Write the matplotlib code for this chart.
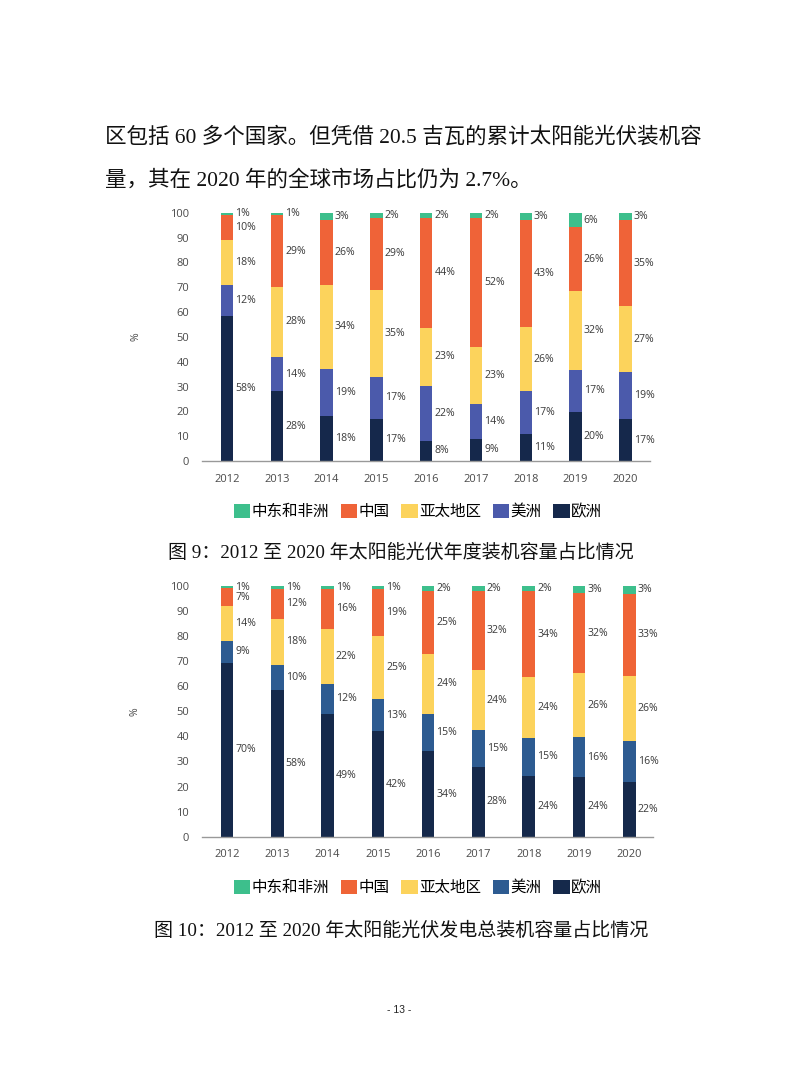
import numpy as np
from matplotlib import pyplot as plt
from matplotlib.patches import Patch

plt.rcParams['font.family'] = ['Open Sans', 'DejaVu Sans']

years = ['2012', '2013', '2014', '2015', '2016', '2017', '2018', '2019', '2020']
regions = ['欧洲', '美洲', '亚太地区', '中国', '中东和非洲']

# figure 9: annual installations, share (%) per region, bottom to top
annual_europe = [58, 28, 18, 17, 8, 9, 11, 20, 17]
annual_americas = [12, 14, 19, 17, 22, 14, 17, 17, 19]
annual_apac = [18, 28, 34, 35, 23, 23, 26, 32, 27]
annual_china = [10, 29, 26, 29, 44, 52, 43, 26, 35]
annual_mea = [1, 1, 3, 2, 2, 2, 3, 6, 3]

# figure 10: cumulative installed capacity, share (%) per region
total_europe = [70, 58, 49, 42, 34, 28, 24, 24, 22]
total_americas = [9, 10, 12, 13, 15, 15, 15, 16, 16]
total_apac = [14, 18, 22, 25, 24, 24, 24, 26, 26]
total_china = [7, 12, 16, 19, 25, 32, 34, 32, 33]
total_mea = [1, 1, 1, 1, 2, 2, 2, 3, 3]

colors_annual = ['#15284b', '#4b5aab', '#fcd35c', '#ef6338', '#3dbf8c']
colors_total = ['#15294b', '#2d5b91', '#fcd35c', '#ef6436', '#3dbf8c']

W, H = 800, 1085
fig = plt.figure(figsize=(W / 100, H / 100), dpi=100)
fig.patch.set_facecolor('white')

cjk = ['Liberation Serif', 'Noto Sans CJK SC']


def px(x, y):
    return x / W, 1 - y / H


def stacked(rect, series, colors, label_x):
    ax = fig.add_axes(rect)
    data = np.array(series, dtype=float)
    heights = data / data.sum(axis=0) * 100
    x = np.arange(len(years))
    bottom = np.zeros(len(years))
    for k in range(len(series)):
        ax.bar(x, heights[k], 0.25, bottom=bottom, color=colors[k], linewidth=0)
        for i in range(len(years)):
            ax.text(x[i] + 0.165, bottom[i] + heights[k][i] / 2, f'{int(data[k][i])}%',
                    ha='left', va='center', fontsize=7.6, color='#3a3a3a')
        bottom += heights[k]
    ax.set_ylim(0, 100)
    ax.set_xlim(*label_x)
    ax.set_xticks(x)
    ax.set_xticklabels(years)
    ax.set_yticks(range(0, 101, 10))
    ax.tick_params(length=0, labelsize=8, colors='#4a4a4a')
    ax.tick_params(axis='y', pad=9)
    ax.tick_params(axis='x', pad=9)
    for s in ['top', 'right', 'left']:
        ax.spines[s].set_visible(False)
    ax.spines['bottom'].set_color('#999999')
    ax.spines['bottom'].set_linewidth(1)
    ax.set_ylabel('%', fontsize=7.5, color='#4a4a4a')
    ax.yaxis.set_label_coords(-0.135, 0.5)
    return ax


def legend(cx, cy, colors):
    order = [4, 3, 2, 1, 0]
    handles = [Patch(facecolor=colors[k], edgecolor='none', label=regions[k]) for k in order]
    fig.legend(handles=handles, loc='center', bbox_to_anchor=px(cx, cy), ncol=5,
               frameon=False, prop={'family': cjk, 'size': 11.2},
               handlelength=1.05, handleheight=1.05, handletextpad=0.1,
               columnspacing=0.75, borderaxespad=0)


# body text
fig.text(*px(105, 137), '区包括 60 多个国家。但凭借 20.5 吉瓦的累计太阳能光伏装机容',
         family=cjk, fontsize=15.5, ha='left', va='center', color='#111111')
fig.text(*px(105, 180), '量，其在 2020 年的全球市场占比仍为 2.7%。',
         family=cjk, fontsize=15.5, ha='left', va='center', color='#111111')

# chart 1
l, b = px(201.7, 461)
stacked([l, b, 448.3 / W, 248.3 / H],
        [annual_europe, annual_americas, annual_apac, annual_china, annual_mea],
        colors_annual, (-0.508, 8.495))
legend(418, 512, colors_annual)
fig.text(*px(401, 553), '图 9：2012 至 2020 年太阳能光伏年度装机容量占比情况',
         family=cjk, fontsize=13.7, fontweight='medium', ha='center', va='center', color='#111111')

# chart 2
l, b = px(201.7, 836.7)
stacked([l, b, 451.3 / W, 250.7 / H],
        [total_europe, total_americas, total_apac, total_china, total_mea],
        colors_total, (-0.503, 8.47))
legend(418, 888, colors_total)
fig.text(*px(401, 931), '图 10：2012 至 2020 年太阳能光伏发电总装机容量占比情况',
         family=cjk, fontsize=13.7, fontweight='medium', ha='center', va='center', color='#111111')

fig.text(*px(399, 1010), '- 13 -', family=['Liberation Sans'], fontsize=7.5,
         ha='center', va='center', color='#222222')

fig.savefig('out.png', dpi=100, facecolor='white')
